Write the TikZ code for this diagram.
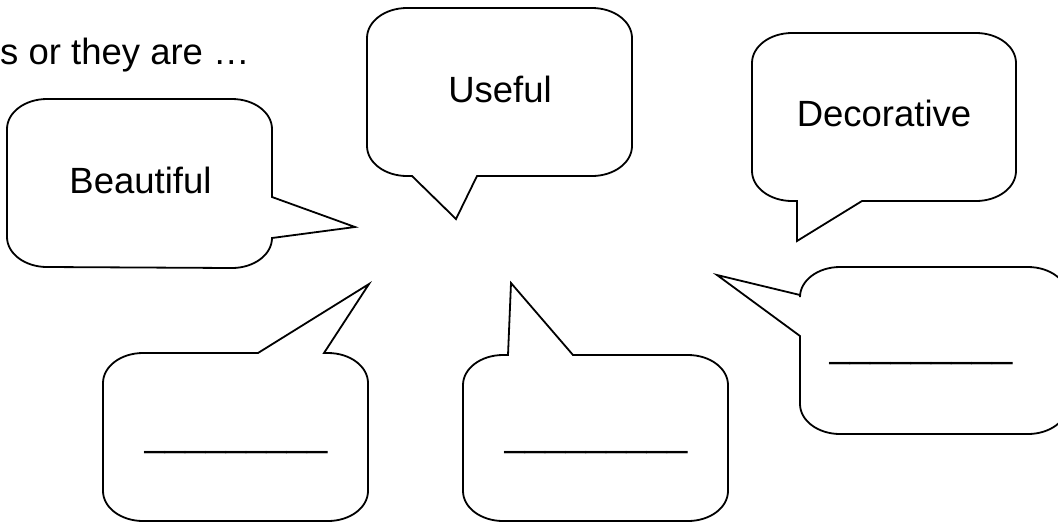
\documentclass[tikz,border=0pt]{standalone}
\usepackage{fontspec}
\setmainfont{Liberation Sans}
\begin{document}
\begin{tikzpicture}[x=1pt,y=-1pt,
  bub/.style={draw=black, line width=1.8pt, line join=miter},
  lbl/.style={font=\fontsize{36.5}{44}\selectfont, inner sep=0pt, anchor=base},
  corner/.style={x radius=40, y radius=30}]
\useasboundingbox (0,0) rectangle (1058,523);
\clip (0,0) rectangle (1058,523);
% Beautiful
\draw[bub] (7,129) arc[start angle=180,end angle=270,corner] -- (232,99)
  arc[start angle=270,end angle=360,corner] -- (272,197) -- (355,227) -- (272,238)
  arc[start angle=0,end angle=90,corner] -- (47,267)
  arc[start angle=90,end angle=180,corner] -- cycle;
% Useful
\draw[bub] (367,38) arc[start angle=180,end angle=270,corner] -- (592,8)
  arc[start angle=270,end angle=360,corner] -- (632,146)
  arc[start angle=0,end angle=90,corner] -- (477,176) -- (456,219) -- (412,176) -- (407,176)
  arc[start angle=90,end angle=180,corner] -- cycle;
% Decorative
\draw[bub] (752,63) arc[start angle=180,end angle=270,corner] -- (976,33)
  arc[start angle=270,end angle=360,corner] -- (1016,171)
  arc[start angle=0,end angle=90,corner] -- (862,201) -- (797,241) -- (797,201) -- (792,201)
  arc[start angle=90,end angle=180,corner] -- cycle;
% right blank
\draw[bub] (800,297) arc[start angle=180,end angle=270,corner] -- (1028,267)
  arc[start angle=270,end angle=360,corner] -- (1068,404)
  arc[start angle=0,end angle=90,corner] -- (840,434)
  arc[start angle=90,end angle=180,corner] -- (800,336) -- (717,275) -- (800,295) -- cycle;
% bottom-left blank
\draw[bub] (103,383) arc[start angle=180,end angle=270,corner] -- (258,353) -- (369,284) -- (324,353) -- (328,353)
  arc[start angle=270,end angle=360,corner] -- (368,491)
  arc[start angle=0,end angle=90,corner] -- (143,521)
  arc[start angle=90,end angle=180,corner] -- cycle;
% bottom-middle blank
\draw[bub] (463,385) arc[start angle=180,end angle=270,corner] -- (508,355) -- (511,283) -- (573,355) -- (688,355)
  arc[start angle=270,end angle=360,corner] -- (728,491)
  arc[start angle=0,end angle=90,corner] -- (503,521)
  arc[start angle=90,end angle=180,corner] -- cycle;
% texts
\node[lbl, anchor=base west] (intro) at (0,64) {s or they are …};
\node[lbl] (beautiful) at (140.5,193) {Beautiful};
\node[lbl] (useful) at (500,102) {Useful};
\node[lbl] (decorative) at (884,126) {Decorative};
\node[lbl] (blankA) at (236,446) {\_\_\_\_\_\_\_\_\_};
\node[lbl] (blankB) at (596,446) {\_\_\_\_\_\_\_\_\_};
\node[lbl] (blankC) at (921,357) {\_\_\_\_\_\_\_\_\_};
\end{tikzpicture}
\end{document}
